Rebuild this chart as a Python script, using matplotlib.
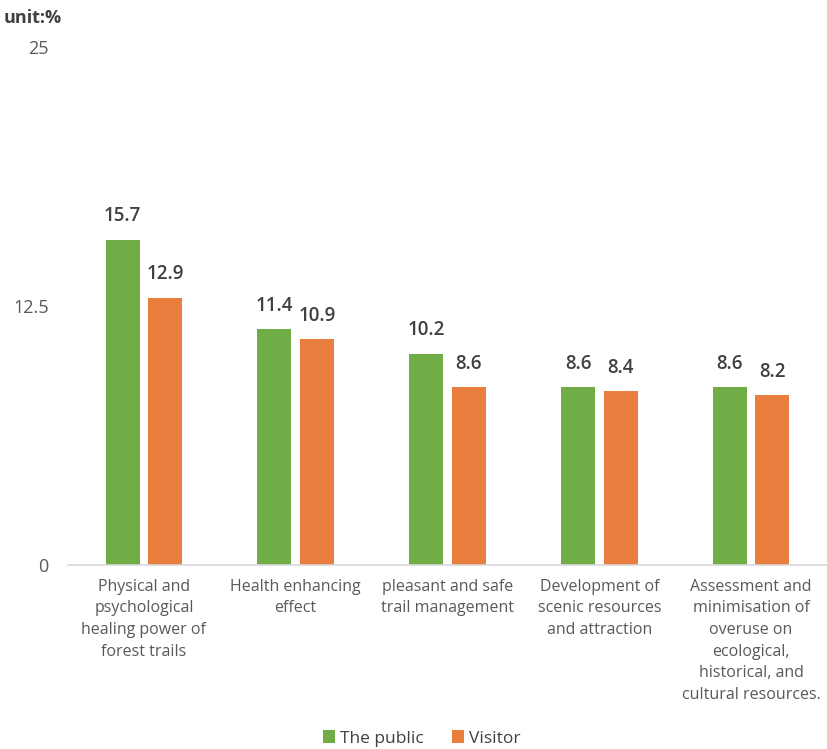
import numpy as np
import matplotlib
matplotlib.use('Agg')
import matplotlib.pyplot as plt

categories = [
    'Physical and\npsychological\nhealing power of\nforest trails',
    'Health enhancing\neffect',
    'pleasant and safe\ntrail management',
    'Development of\nscenic resources\nand attraction',
    'Assessment and\nminimisation of\noveruse on\necological,\nhistorical, and\ncultural resources.',
]
public = [15.7, 11.4, 10.2, 8.6, 8.6]
visitor = [12.9, 10.9, 8.6, 8.4, 8.2]
yticks = [0, 12.5, 25]
ytick_labels = ['0', '12.5', '25']

green = '#70AD47'
orange = '#E97E3F'
grey = '#595959'

plt.rcParams['font.family'] = ['Open Sans', 'DejaVu Sans']

fig = plt.figure(figsize=(8.27, 7.49), dpi=100)
ax = fig.add_axes([0.0822, 0.2457, 0.9178, 0.6916])

x = np.arange(len(categories))
w = 0.224
off = 0.14
b1 = ax.bar(x - off, public, w, color=green, label='The public')
b2 = ax.bar(x + off, visitor, w, color=orange, label='Visitor')

for bars, vals in ((b1, public), (b2, visitor)):
    for rect, v in zip(bars, vals):
        ax.annotate(f'{v}', (rect.get_x() + rect.get_width() / 2, v),
                    xytext=(0, 9.5), textcoords='offset points',
                    ha='center', va='bottom', fontsize=13.5,
                    fontweight='semibold', color='#404040')

ax.set_xlim(-0.5, len(categories) - 0.5)
ax.set_ylim(0, 25)
ax.set_yticks(yticks)
ax.set_yticklabels(ytick_labels, fontsize=13, color=grey)
ax.set_xticks(x)
ax.set_xticklabels(categories, fontsize=11.5, color=grey, linespacing=1.47, va='top')
ax.tick_params(axis='both', length=0)
ax.tick_params(axis='y', pad=14)
ax.tick_params(axis='x', pad=10)
for s in ('top', 'right', 'left'):
    ax.spines[s].set_visible(False)
ax.spines['bottom'].set_color('#D9D9D9')
ax.spines['bottom'].set_linewidth(1.2)

fig.text(0.004, 0.976, 'unit:%', fontsize=13, fontweight='bold',
         color='#404040', ha='left', va='center')

fig.legend(handles=[b1, b2], loc='center', bbox_to_anchor=(0.51, 0.014),
           ncol=2, frameon=False, fontsize=12.5, handlelength=0.7,
           handleheight=0.7, handletextpad=0.3, columnspacing=1.6,
           labelcolor='#404040')

fig.savefig('out.png', dpi=100)
